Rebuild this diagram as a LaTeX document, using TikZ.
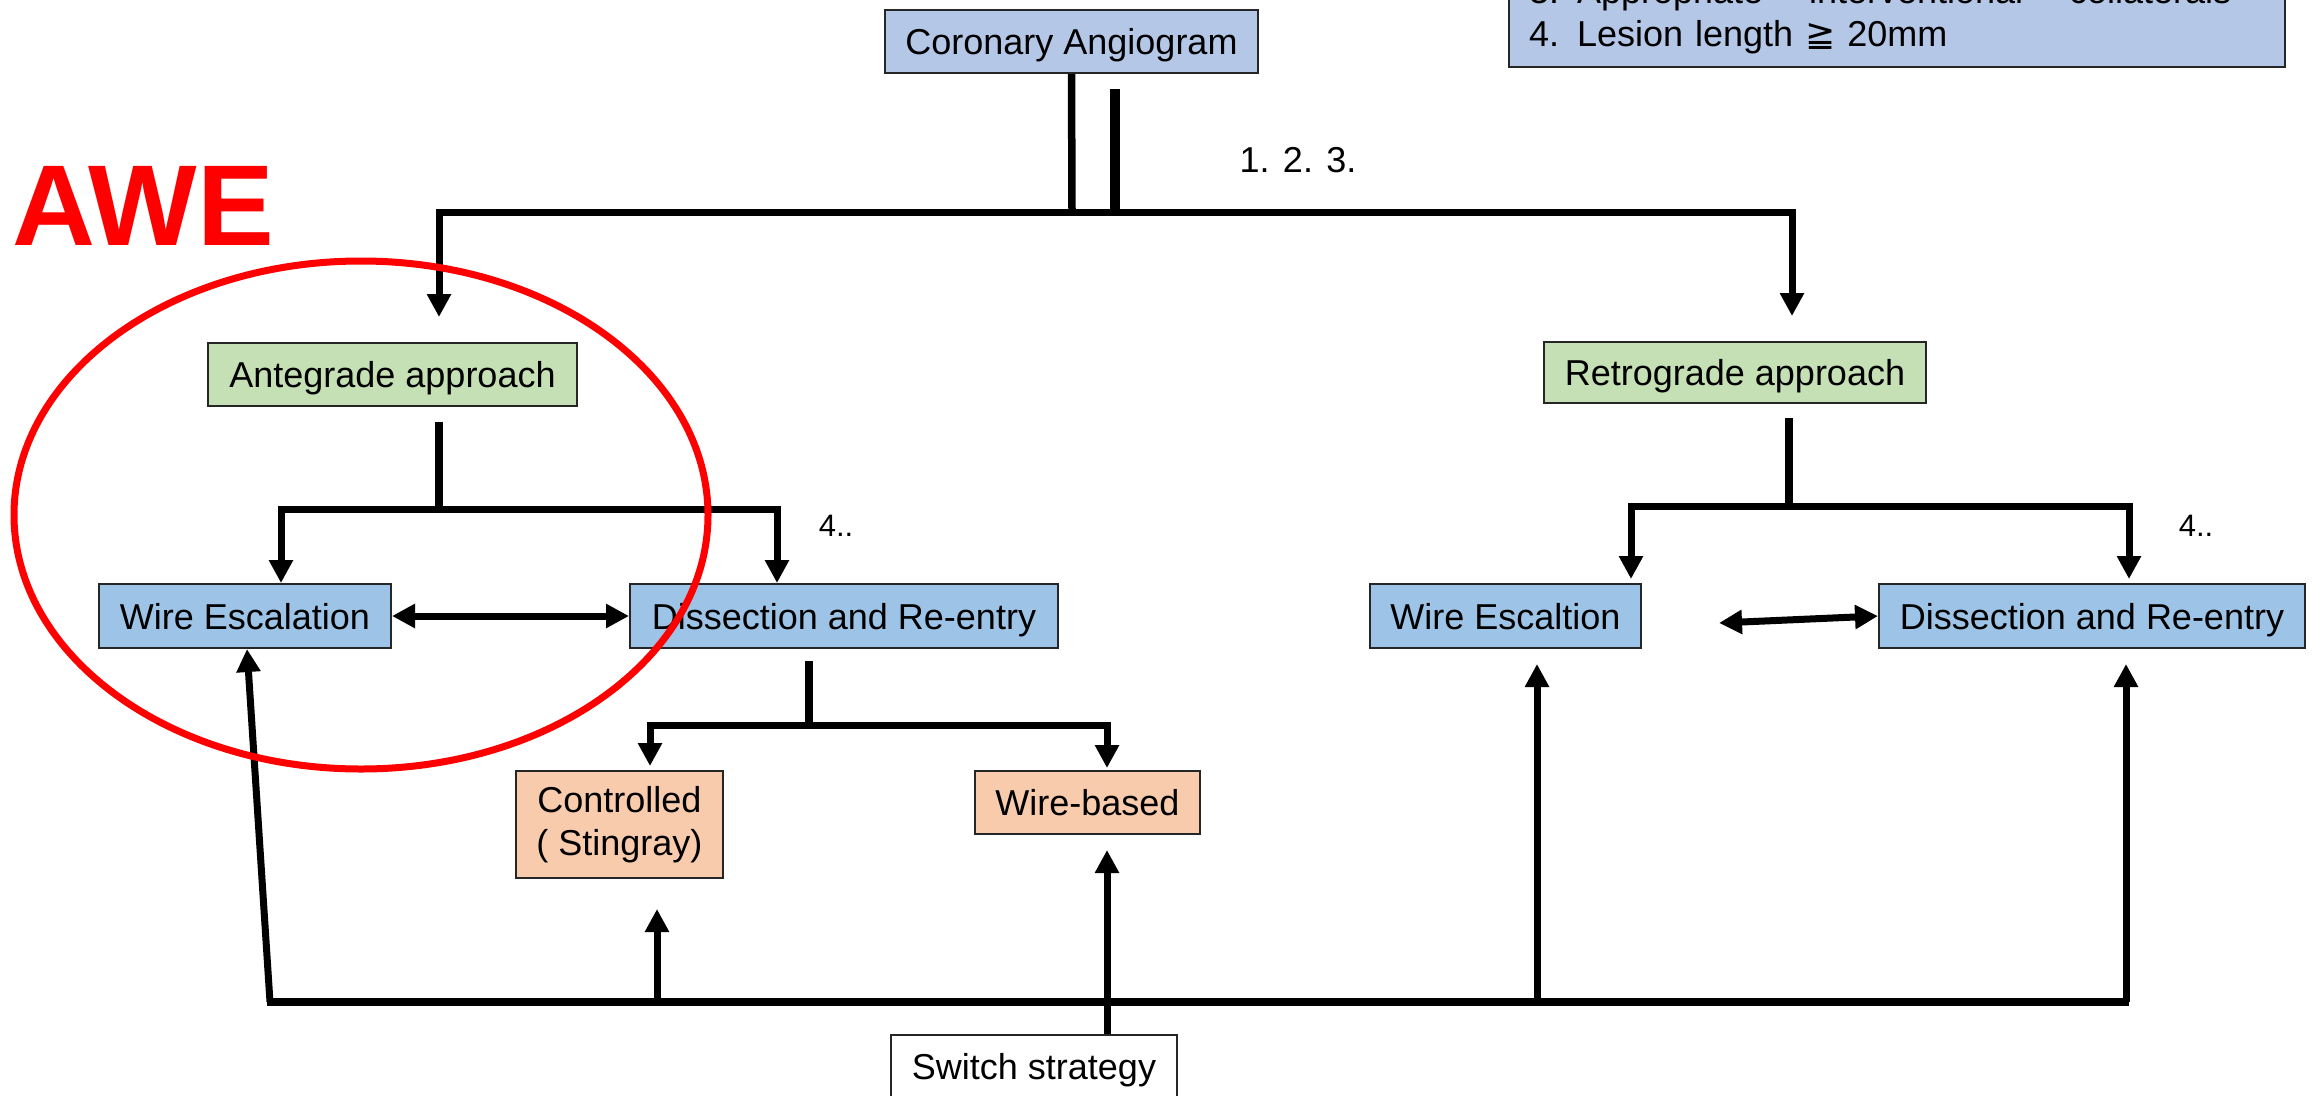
\documentclass[tikz,border=0pt]{standalone}
\usepackage{fontspec}
\setmainfont{Liberation Sans}
\newfontfamily\symbolfont{DejaVu Sans}
\definecolor{angioblue}{HTML}{B4C7E7}
\definecolor{stepblue}{HTML}{9DC3E6}
\definecolor{approachgreen}{HTML}{C5E0B4}
\definecolor{devicepeach}{HTML}{F8CBAD}
\definecolor{awered}{HTML}{FF0000}
\usetikzlibrary{calc, positioning, arrows.meta}

\begin{document}
\begin{tikzpicture}[
    x=1pt, y=-1pt,
    box/.style={draw=black!85, line width=2pt, inner sep=0pt,
      font=\fontsize{36}{43}\selectfont, align=center},
    oneline/.style={box, text height=29pt, text depth=3pt},
    conn/.style={line width=7.5pt},
    arr/.style={line width=7pt, -{Triangle[length=23pt, width=23pt]}},
    darr/.style={line width=7pt,
      {Triangle[length=23pt, width=23pt]}-{Triangle[length=23pt, width=23pt]}},
    lbl/.style={font=\fontsize{36}{43}\selectfont, inner sep=0pt},
  ]
    \useasboundingbox (0,0) rectangle (2312,1095);

    \node[oneline, fill=angioblue, minimum width=373pt, minimum height=63pt] (angio) at (1071.5,41.5) {Coronary Angiogram};
    \node[box, fill=angioblue, text width=736pt, align=left, inner xsep=20pt, inner ysep=12.6pt,
      anchor=south west] (criteria) at (1508,68)
      {3. Appropriate\hspace{34pt}“interventional”\hspace{34pt}collaterals\\4. Lesion length {\symbolfont ≧} 20mm};
    \node[font=\bfseries\fontsize{115}{120}\selectfont, text=awered, inner sep=0pt] (awe) at (143,206) {AWE};

    \node[oneline, fill=approachgreen, minimum width=369pt, minimum height=63pt] (ante) at (392.5,374.5) {Antegrade approach};
    \node[oneline, fill=approachgreen, minimum width=382pt, minimum height=61pt] (retro) at (1735,372.5) {Retrograde approach};

    \node[oneline, fill=stepblue, minimum width=292pt, minimum height=64pt] (wireL) at (245,616) {Wire Escalation};
    \node[oneline, fill=stepblue, minimum width=428pt, minimum height=64pt] (dissL) at (844,616) {Dissection and Re-entry};
    \node[oneline, fill=stepblue, minimum width=271pt, minimum height=64pt] (wireR) at (1505.5,616) {Wire Escaltion};
    \node[oneline, fill=stepblue, minimum width=426pt, minimum height=64pt] (dissR) at (2092,616) {Dissection and Re-entry};

    \node[box, fill=devicepeach, minimum width=207pt, minimum height=107pt] (stingray) at (619.5,824.5) {Controlled\\( Stingray)};
    \node[oneline, fill=devicepeach, minimum width=225pt, minimum height=63pt] (wirebased) at (1087.5,802.5) {Wire-based};
    \node[oneline, fill=white, minimum width=286pt, minimum height=63pt] (switch) at (1034,1066.5) {Switch strategy};

    \node[lbl] (crit123) at (1298,160) {1. 2. 3.};
    \node[lbl, font=\fontsize{31}{36}\selectfont] (critL) at (836,526) {4..};
    \node[lbl, font=\fontsize{31}{36}\selectfont] (critR) at (2196,526) {4..};

    % angiogram split
    \coordinate (fork) at (1072,212);
    \coordinate (fork2) at (1115,212);
    \draw[conn] (angio.south) -- (fork);
    \draw[conn, line width=10pt] ([xshift=43.5pt, yshift=-15pt]angio.south) -- (fork2);
    \draw[arr] (fork) -| ([xshift=46.5pt, yshift=25pt]ante.north);
    \draw[arr] (fork) -| ([xshift=57pt, yshift=25pt]retro.north);

    % antegrade branch
    \coordinate (antefork) at (439,509);
    \draw[conn] ([xshift=46.5pt, yshift=-15pt]ante.south) -- (antefork);
    \draw[arr] (antefork) -| ([xshift=36pt]wireL.north);
    \draw[arr] (antefork) -| ([xshift=-67pt]dissL.north);
    \draw[darr] (wireL) -- (dissL);

    \coordinate (dissfork) at (809,725);
    \draw[conn] ([xshift=-35pt, yshift=-12pt]dissL.south) -- (dissfork);
    \draw[arr] (dissfork) -| ([xshift=30.5pt, yshift=4pt]stingray.north);
    \draw[arr] (dissfork) -| ([xshift=19.5pt, yshift=2pt]wirebased.north);

    % retrograde branch
    \coordinate (retrofork) at (1789,506);
    \draw[conn] ([xshift=54pt, yshift=-14pt]retro.south) -- (retrofork);
    \draw[arr] (retrofork) -| ([xshift=125.5pt, yshift=4pt]wireR.north);
    \draw[arr] (retrofork) -| ([xshift=37pt, yshift=4pt]dissR.north);
    \coordinate (swapend) at (1719,623);
    \draw[darr] (swapend) -- (dissR.west);

    % switch strategy bus
    \coordinate (busL) at (270,1002);
    \coordinate (busC) at (657,1002);
    \coordinate (busWR) at (1537,1002);
    \coordinate (busR) at (2126,1002);
    \draw[conn] ([xshift=-3pt]busL) -- ([xshift=3pt]busR);
    \draw[arr] (busL) -- ([xshift=2pt]wireL.south);
    \draw[arr] (busC) -- ([xshift=37.5pt, yshift=-30pt]stingray.south);
    \draw[arr] ([xshift=73pt]switch.north) -- ([xshift=19.5pt, yshift=-15pt]wirebased.south);
    \draw[arr] (busWR) -- ([xshift=31.5pt, yshift=-15pt]wireR.south);
    \draw[arr] (busR) -- ([xshift=34pt, yshift=-15pt]dissR.south);

    \draw[awered, line width=7pt] (361,515) ellipse [x radius=347pt, y radius=254pt];
  \end{tikzpicture}
\end{document}
